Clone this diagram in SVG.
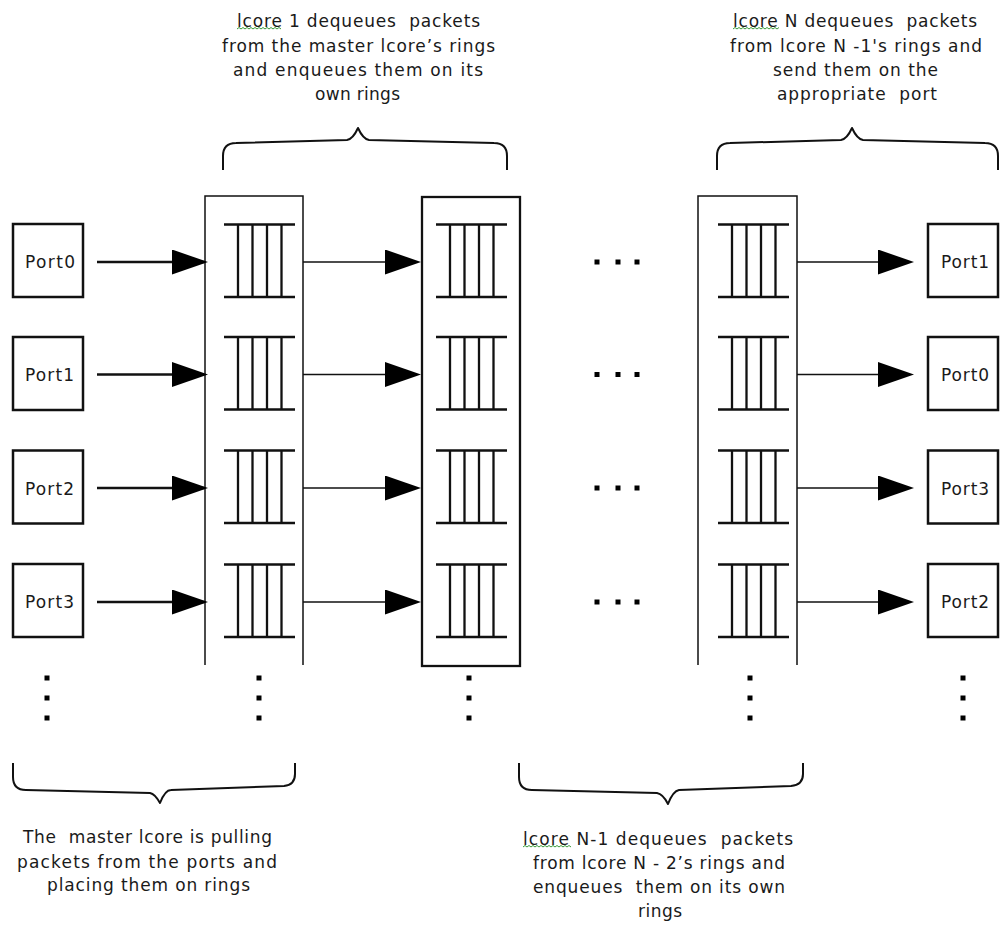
<svg xmlns="http://www.w3.org/2000/svg" xmlns:xlink="http://www.w3.org/1999/xlink" width="1001" height="933" viewBox="0 0 1001 933">
<style>
  .port { fill: #fff; stroke: #111; stroke-width: 2.5; }
  .plbl { font-family: "DejaVu Sans", Verdana, sans-serif; font-size: 17px; fill: #1a1a1a; }
  .txt { font-family: "DejaVu Sans", Verdana, sans-serif; font-size: 17px; fill: #1a1a1a; white-space: pre; }
  .col { fill: none; stroke: #111; stroke-width: 1.5; }
  .colb { fill: none; stroke: #111; stroke-width: 2.3; }
  .ring { fill: none; stroke: #111; stroke-width: 2.3; }
  .brace { fill: none; stroke: #111; stroke-width: 2; stroke-linejoin: round; }
  .lin { stroke: #111; stroke-width: 2.6; fill: none; }
  .lthin { stroke: #111; stroke-width: 1.5; fill: none; }
  .dot { fill: #000; }
  .sq { fill: none; stroke: #3a9a3a; stroke-width: 1; }
</style>
<defs>
  <g id="ring" class="ring">
    <path d="M0,-37.5 H71 M0,35 H71 M14,-37.5 V35 M28.5,-37.5 V35 M43,-37.5 V35 M57.5,-37.5 V35"/>
  </g>
  <marker id="ah" markerUnits="userSpaceOnUse" markerWidth="36" markerHeight="26" refX="32" refY="12.5" orient="auto">
    <path d="M0,0 L36,12.5 L0,25 Z" fill="#000"/>
  </marker>
  <rect id="hd" width="5" height="5" class="dot"/>
</defs>

<!-- input ports -->
<g id="port-in-0"><rect class="port" x="13" y="224" width="70" height="73"/><text class="plbl" x="25" y="268" textLength="50">Port0</text></g>
<g id="port-in-1"><rect class="port" x="13" y="337" width="70" height="73"/><text class="plbl" x="25" y="381" textLength="49">Port1</text></g>
<g id="port-in-2"><rect class="port" x="13" y="450.5" width="70" height="73"/><text class="plbl" x="25" y="494.5" textLength="49">Port2</text></g>
<g id="port-in-3"><rect class="port" x="13" y="564" width="70" height="73"/><text class="plbl" x="25" y="608" textLength="49">Port3</text></g>

<!-- master lcore column -->
<g id="col-master">
  <path class="col" d="M205,665 V196 H303 V665"/>
  <use xlink:href="#ring" x="224" y="262"/>
  <use xlink:href="#ring" x="224" y="374.5"/>
  <use xlink:href="#ring" x="224" y="488"/>
  <use xlink:href="#ring" x="224" y="602"/>
</g>

<!-- lcore 1 column -->
<g id="col-lcore1">
  <rect class="colb" x="422" y="197" width="98" height="469"/>
  <use xlink:href="#ring" x="436" y="262"/>
  <use xlink:href="#ring" x="436" y="374.5"/>
  <use xlink:href="#ring" x="436" y="488"/>
  <use xlink:href="#ring" x="436" y="602"/>
</g>

<!-- lcore N column -->
<g id="col-lcoreN">
  <path class="col" d="M698,665 V196 H797 V665"/>
  <use xlink:href="#ring" x="718" y="262"/>
  <use xlink:href="#ring" x="718" y="374.5"/>
  <use xlink:href="#ring" x="718" y="488"/>
  <use xlink:href="#ring" x="718" y="602"/>
</g>

<!-- output ports -->
<g id="port-out-1"><rect class="port" x="928" y="224" width="70" height="73"/><text class="plbl" x="941" y="268" textLength="48">Port1</text></g>
<g id="port-out-0"><rect class="port" x="928" y="337" width="70" height="73"/><text class="plbl" x="941" y="381" textLength="48">Port0</text></g>
<g id="port-out-3"><rect class="port" x="928" y="450.5" width="70" height="73"/><text class="plbl" x="941" y="494.5" textLength="48">Port3</text></g>
<g id="port-out-2"><rect class="port" x="928" y="564" width="70" height="73"/><text class="plbl" x="941" y="608" textLength="48">Port2</text></g>

<!-- connectors -->
<g id="connectors">
  <line class="lin" x1="97" y1="262" x2="204" y2="262" marker-end="url(#ah)"/>
  <line class="lin" x1="97" y1="374.5" x2="204" y2="374.5" marker-end="url(#ah)"/>
  <line class="lin" x1="97" y1="488" x2="204" y2="488" marker-end="url(#ah)"/>
  <line class="lin" x1="97" y1="602" x2="204" y2="602" marker-end="url(#ah)"/>

  <line class="lthin" x1="303" y1="262" x2="417" y2="262" marker-end="url(#ah)"/>
  <line class="lthin" x1="303" y1="374.5" x2="417" y2="374.5" marker-end="url(#ah)"/>
  <line class="lthin" x1="303" y1="488" x2="417" y2="488" marker-end="url(#ah)"/>
  <line class="lthin" x1="303" y1="602" x2="417" y2="602" marker-end="url(#ah)"/>

  <line class="lthin" x1="797" y1="262" x2="910" y2="262" marker-end="url(#ah)"/>
  <line class="lthin" x1="797" y1="374.5" x2="910" y2="374.5" marker-end="url(#ah)"/>
  <line class="lthin" x1="797" y1="488" x2="910" y2="488" marker-end="url(#ah)"/>
  <line class="lthin" x1="797" y1="602" x2="910" y2="602" marker-end="url(#ah)"/>
</g>

<!-- ellipses -->
<g id="ellipsis-h">
  <use xlink:href="#hd" x="594.5" y="259.5"/><use xlink:href="#hd" x="615.5" y="259.5"/><use xlink:href="#hd" x="634.5" y="259.5"/>
  <use xlink:href="#hd" x="594.5" y="372"/><use xlink:href="#hd" x="615.5" y="372"/><use xlink:href="#hd" x="634.5" y="372"/>
  <use xlink:href="#hd" x="594.5" y="485.5"/><use xlink:href="#hd" x="615.5" y="485.5"/><use xlink:href="#hd" x="634.5" y="485.5"/>
  <use xlink:href="#hd" x="594.5" y="599.5"/><use xlink:href="#hd" x="615.5" y="599.5"/><use xlink:href="#hd" x="634.5" y="599.5"/>
</g>
<g id="ellipsis-v">
  <use xlink:href="#hd" x="44.5" y="675.5"/><use xlink:href="#hd" x="44.5" y="695.5"/><use xlink:href="#hd" x="44.5" y="715.5"/>
  <use xlink:href="#hd" x="256.5" y="675.5"/><use xlink:href="#hd" x="256.5" y="695.5"/><use xlink:href="#hd" x="256.5" y="715.5"/>
  <use xlink:href="#hd" x="466.5" y="675.5"/><use xlink:href="#hd" x="466.5" y="695.5"/><use xlink:href="#hd" x="466.5" y="715.5"/>
  <use xlink:href="#hd" x="747.5" y="675.5"/><use xlink:href="#hd" x="747.5" y="695.5"/><use xlink:href="#hd" x="747.5" y="715.5"/>
  <use xlink:href="#hd" x="960.5" y="675.5"/><use xlink:href="#hd" x="960.5" y="695.5"/><use xlink:href="#hd" x="960.5" y="715.5"/>
</g>

<!-- braces -->
<g id="brace-lcore1"><path class="brace" d="M223,170 V156 Q223,143 236,143 L347,140 Q353,139 358,128 Q363,139 369,140 L494,143 Q507,143 507,156 V170"/></g>
<g id="brace-lcoreN"><path class="brace" d="M717,170 V156 Q717,143 730,143 L841,140 Q847,139 852,128 Q857,139 863,140 L985,143 Q998,143 998,156 V170"/></g>
<g id="brace-master"><path class="brace" d="M13,763 V777 Q13,790 26,790 L150,793 Q155,794 160,803 Q165,790 171,790 L284,786 Q295,785 295,774 V763"/></g>
<g id="brace-lcoreN1"><path class="brace" d="M519,763 V777 Q519,790 532,790 L657,793 Q663,794 668,804 Q673,791 679,790 L791,786 Q803,785 803,774 V763"/></g>

<!-- labels -->
<g id="label-lcore1">
  <text class="txt" x="237" y="27" textLength="243">lcore 1 dequeues  packets</text>
  <text class="txt" x="222" y="51.5" textLength="273">from the master lcore’s rings</text>
  <text class="txt" x="233" y="75.5" textLength="250">and enqueues them on its</text>
  <text class="txt" x="315" y="99.5" textLength="85">own rings</text>
  <path class="sq" d="M237,29 l2,-1.5 l2,1.5 l2,-1.5 l2,1.5 l2,-1.5 l2,1.5 l2,-1.5 l2,1.5 l2,-1.5 l2,1.5 l2,-1.5 l2,1.5 l2,-1.5 l2,1.5 l2,-1.5 l2,1.5 l2,-1.5 l2,1.5 l2,-1.5 l2,1.5 l2,-1.5 l2,1.5"/>
</g>
<g id="label-lcoreN">
  <text class="txt" x="733" y="27" textLength="244">lcore N dequeues  packets</text>
  <text class="txt" x="730" y="51.5" textLength="252">from lcore N -1's rings and</text>
  <text class="txt" x="773" y="75.5" textLength="165">send them on the</text>
  <text class="txt" x="777" y="99.5" textLength="160">appropriate  port</text>
  <path class="sq" d="M733,29 l2,-1.5 l2,1.5 l2,-1.5 l2,1.5 l2,-1.5 l2,1.5 l2,-1.5 l2,1.5 l2,-1.5 l2,1.5 l2,-1.5 l2,1.5 l2,-1.5 l2,1.5 l2,-1.5 l2,1.5 l2,-1.5 l2,1.5 l2,-1.5 l2,1.5 l2,-1.5 l2,1.5 l2,-1.5"/>
</g>
<g id="label-master">
  <text class="txt" x="23" y="843" textLength="249">The  master lcore is pulling</text>
  <text class="txt" x="17" y="867.5" textLength="260">packets from the ports and</text>
  <text class="txt" x="47" y="891" textLength="203">placing them on rings</text>
</g>
<g id="label-lcoreN1">
  <text class="txt" x="523" y="845" textLength="270">lcore N-1 dequeues  packets</text>
  <text class="txt" x="533" y="869" textLength="252">from lcore N - 2’s rings and</text>
  <text class="txt" x="533" y="893" textLength="252">enqueues  them on its own</text>
  <text class="txt" x="638" y="917" textLength="44">rings</text>
  <path class="sq" d="M523,847 l2,-1.5 l2,1.5 l2,-1.5 l2,1.5 l2,-1.5 l2,1.5 l2,-1.5 l2,1.5 l2,-1.5 l2,1.5 l2,-1.5 l2,1.5 l2,-1.5 l2,1.5 l2,-1.5 l2,1.5 l2,-1.5 l2,1.5 l2,-1.5 l2,1.5 l2,-1.5 l2,1.5 l2,-1.5 l2,1.5"/>
</g>
</svg>
